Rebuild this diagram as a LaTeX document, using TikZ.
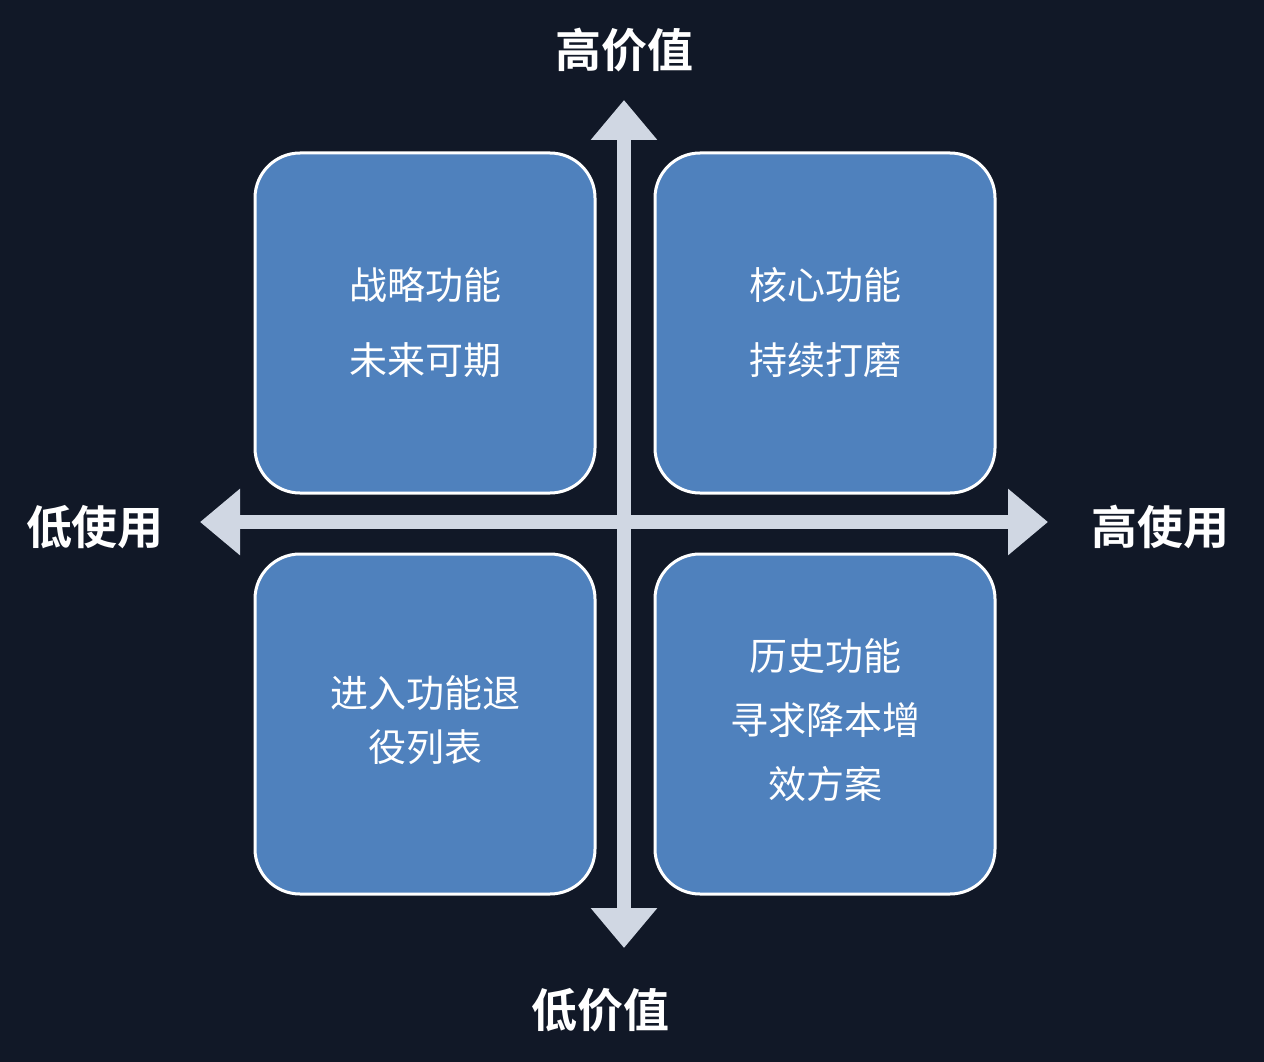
\documentclass[tikz,border=0pt]{standalone}
\usepackage{fontspec}
\newfontfamily\cjk{Noto Sans CJK SC}[BoldFont={Noto Sans CJK SC Bold}]
\usetikzlibrary{arrows.meta}
\definecolor{bg}{HTML}{111827}
\definecolor{boxc}{HTML}{4F81BD}
\definecolor{axis}{HTML}{D0D7E3}
\begin{document}
\begin{tikzpicture}[x=1pt,y=-1pt,
  box/.style={draw=white,line width=3pt,fill=boxc,rounded corners=45pt,minimum width=340pt,minimum height=340pt,inner sep=0pt},
  btxt/.style={text=white,font=\cjk\fontsize{38}{75}\selectfont,align=center},
  lbl/.style={text=white,font=\cjk\bfseries\fontsize{46}{50}\selectfont},
  ax/.style={axis,line width=14pt,{Triangle[length=40pt,width=64pt]}-{Triangle[length=40pt,width=64pt]}}]
\fill[bg] (0,0) rectangle (1264,1062);
\useasboundingbox (0,0) rectangle (1264,1062);
\node[box] (tl) at (425,323) {};
\node[box] (tr) at (825,323) {};
\node[box] (bl) at (425,724) {};
\node[box] (br) at (825,724) {};
\coordinate (top) at (624,100);
\coordinate (bot) at (624,948);
\coordinate (left) at (200,522);
\coordinate (right) at (1048,522);
\draw[ax] (bot) -- (top);
\draw[ax] (left) -- (right);
\node[btxt] at (tl) {战略功能\\未来可期};
\node[btxt] at (tr) {核心功能\\持续打磨};
\node[btxt,font=\cjk\fontsize{38}{54}\selectfont] at (425,720) {进入功能退\\役列表};
\node[btxt,font=\cjk\fontsize{38}{64}\selectfont] at (825,720) {历史功能\\寻求降本增\\效方案};
\node[lbl] (hv) at (624,50) {高价值};
\node[lbl] (lv) at (600,1010) {低价值};
\node[lbl] (lu) at (95,527) {低使用};
\node[lbl] (hu) at (1160,527) {高使用};
\end{tikzpicture}
\end{document}
